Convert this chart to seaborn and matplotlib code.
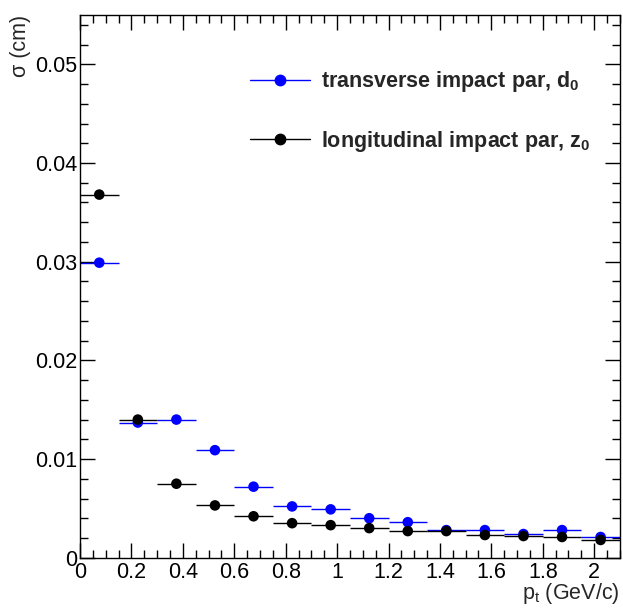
import matplotlib
matplotlib.use("Agg")
import pandas as pd
import matplotlib.pyplot as plt
from matplotlib.lines import Line2D
from matplotlib.ticker import MultipleLocator
import seaborn as sns

sns.set_theme(style="ticks")

# --- data (bins of 0.15 GeV/c) ---
pt_centers = [0.075, 0.225, 0.375, 0.525, 0.675, 0.825, 0.975,
              1.125, 1.275, 1.425, 1.575, 1.725, 1.875, 2.025]
pt_half_width = 0.075
sigma_d0 = [0.0299, 0.0137, 0.0140, 0.0109, 0.0072, 0.0052, 0.0049,
            0.0040, 0.0036, 0.0028, 0.0028, 0.0024, 0.0028, 0.0021]
sigma_z0 = [0.0368, 0.0140, 0.0075, 0.0053, 0.0042, 0.0035, 0.0033,
            0.0030, 0.0027, 0.0027, 0.0023, 0.0022, 0.0021, 0.0018]
series_labels = ["transverse impact par, d$_\\mathbf{0}$",
                 "longitudinal impact par, z$_\\mathbf{0}$"]
series_colors = ["#0000ff", "#000000"]

plt.rcParams.update({
    "font.family": ["Liberation Sans", "DejaVu Sans"],
    "mathtext.fontset": "custom",
    "mathtext.rm": "Liberation Sans",
    "mathtext.bf": "Liberation Sans:bold",
    "mathtext.it": "Liberation Sans:italic",
    "axes.linewidth": 1.0,
    "axes.edgecolor": "black",
})

df = pd.concat([
    pd.DataFrame({"pt": pt_centers, "sigma": sigma_d0, "param": series_labels[0]}),
    pd.DataFrame({"pt": pt_centers, "sigma": sigma_z0, "param": series_labels[1]}),
], ignore_index=True)

fig = plt.figure(figsize=(6.23, 6.10), dpi=100)
ax = fig.add_axes([0.1284, 0.0857, 0.8666, 0.8897])

# horizontal bin-width bars
for lab, col in zip(series_labels, series_colors):
    sub = df[df["param"] == lab]
    ax.errorbar(sub["pt"], sub["sigma"], xerr=pt_half_width, fmt="none",
                ecolor=col, elinewidth=1.0, capsize=0, zorder=2)

sns.scatterplot(data=df, x="pt", y="sigma", hue="param", hue_order=series_labels,
                palette=series_colors, s=58, linewidth=0, legend=False,
                ax=ax, zorder=3)

ax.set_xlim(0, 2.1)
ax.set_ylim(0, 0.055)
ax.xaxis.set_major_locator(MultipleLocator(0.2))
ax.xaxis.set_minor_locator(MultipleLocator(0.05))
ax.yaxis.set_major_locator(MultipleLocator(0.01))
ax.yaxis.set_minor_locator(MultipleLocator(0.002))
ax.xaxis.set_major_formatter(plt.FuncFormatter(lambda v, p: f"{v:g}"))
ax.yaxis.set_major_formatter(plt.FuncFormatter(lambda v, p: f"{v:g}"))

ax.tick_params(which="both", direction="in", top=True, right=True,
               labelsize=15.5, width=1.0, colors="black")
ax.tick_params(which="major", length=11)
ax.tick_params(which="minor", length=5.5)
ax.tick_params(axis="x", pad=3)
ax.tick_params(axis="y", pad=2)

ax.set_xlabel("p$_\\mathregular{t}$ (GeV/c)", fontsize=15.5, loc="right")
ax.xaxis.set_label_coords(1.0, -0.043)
ax.set_ylabel("σ (cm)", fontsize=15.5, loc="top")
ax.yaxis.set_label_coords(-0.09, 1.0)

handles = [Line2D([], [], color=c, marker="o", markersize=7.5, lw=1.0)
           for c in series_colors]
ax.legend(handles, series_labels, loc="upper left", bbox_to_anchor=(0.315, 0.9),
          frameon=False, borderpad=0, borderaxespad=0, handlelength=2.8,
          handletextpad=0.5, labelspacing=1.6,
          prop={"size": 15.5, "weight": "bold"})

fig.savefig("out.png", dpi=100)
plt.close(fig)
